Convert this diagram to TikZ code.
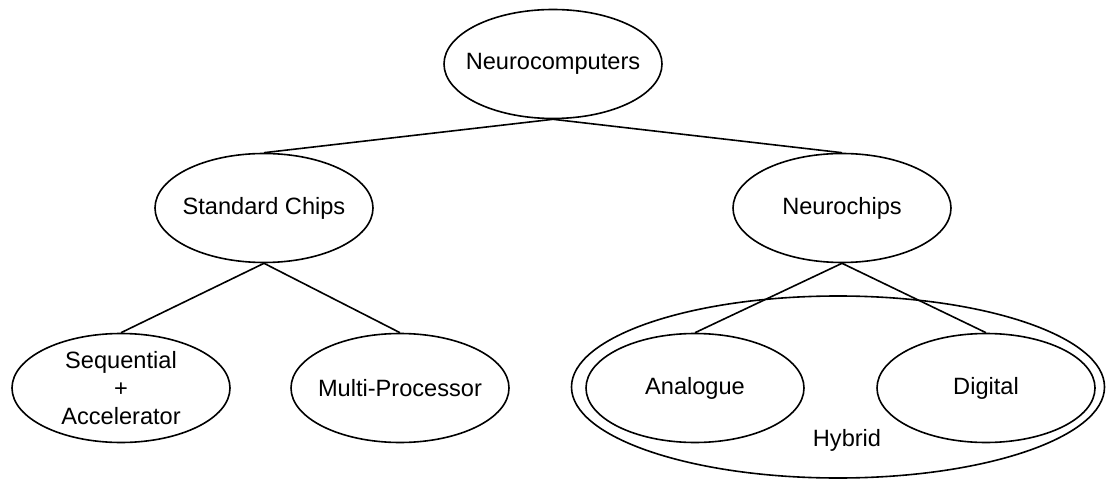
\documentclass[tikz,border=0pt]{standalone}
\usepackage{fontspec}
\setmainfont{Liberation Sans}
\usepackage{tikz}
\usetikzlibrary{shapes}

\begin{document}
\begin{tikzpicture}[x=0.5pt,y=-0.5pt,line width=0.8pt,
  chip/.style={ellipse,draw,minimum width=109pt,minimum height=54.5pt,
    inner xsep=-12pt,inner ysep=-4pt,align=center,
    font=\fontsize{11.8}{14.2}\selectfont}]
\useasboundingbox (0,0) rectangle (1106,480);
\node[chip] (nc) at (553,64) {Neurocomputers};
\node[chip] (std) at (264,208) {Standard Chips};
\node[chip] (nch) at (842,208) {Neurochips};
\node[chip] (seq) at (121,388) {Sequential\\+\\Accelerator};
\node[chip] (mp) at (400,388) {Multi-Processor};
% hybrid group round the two neurochip kinds
\node[ellipse,draw,minimum width=266.5pt,minimum height=91pt] (hyb) at (838,387) {};
\node[chip] (ana) at (695,388) {Analogue};
\node[chip] (dig) at (986,388) {Digital};
\node[font=\fontsize{11.8}{14.2}\selectfont] (hybtxt) at (847,440) {Hybrid};
\draw (nc.south) -- (std.north);
\draw (nc.south) -- (nch.north);
\draw (std.south) -- (seq.north);
\draw (std.south) -- (mp.north);
\draw (nch.south) -- (ana.north);
\draw (nch.south) -- (dig.north);
\end{tikzpicture}
\end{document}
